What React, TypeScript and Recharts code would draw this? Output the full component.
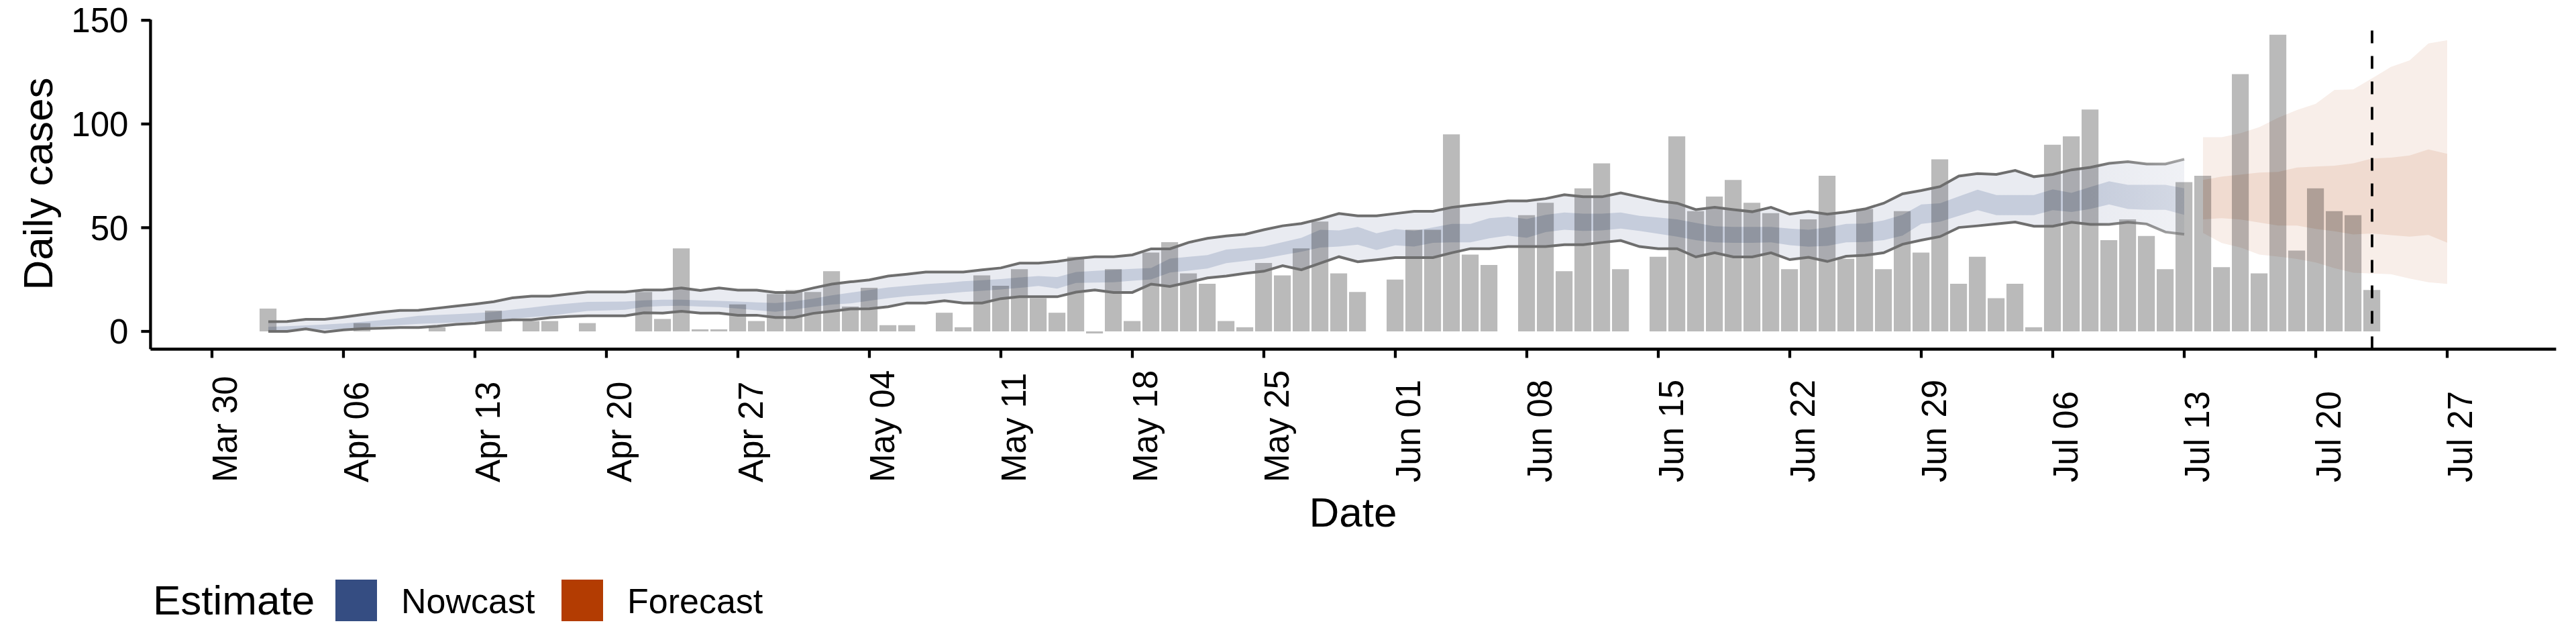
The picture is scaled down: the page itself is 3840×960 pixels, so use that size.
import React from 'react';
import { ComposedChart, Bar, Area, Line, XAxis, YAxis, ReferenceLine, Legend, Label } from 'recharts';

const FONT = '"Liberation Sans", Arial, Helvetica, sans-serif';

// day index = days after Mar 30
const FIRST_DAY = 3; // Apr 02
const FIRST_FORECAST_DAY = 106; // Jul 14
const CUTOFF_DAY = 115; // Jul 23

const tickDays = [0, 7, 14, 21, 28, 35, 42, 49, 56, 63, 70, 77, 84, 91, 98, 105, 112, 119];
const tickLabels = ['Mar 30', 'Apr 06', 'Apr 13', 'Apr 20', 'Apr 27', 'May 04', 'May 11', 'May 18', 'May 25', 'Jun 01', 'Jun 08', 'Jun 15', 'Jun 22', 'Jun 29', 'Jul 06', 'Jul 13', 'Jul 20', 'Jul 27'];
const yTicks = [0, 50, 100, 150];

// Apr 02 .. Jul 23
const dailyCases = [
  11, 0, 0, 0, 0, 4, 0, 0, 0, 2, 0, 0, 10, 0, 5, 5, 0, 4, 0, 0,
  19, 6, 40, 1, 1, 13, 5, 18, 20, 19, 29, 12, 21, 3, 3, 0, 9, 2, 27, 22,
  30, 16, 9, 36, -1, 30, 5, 38, 43, 28, 23, 5, 2, 33, 27, 40, 53, 28, 19, 0,
  25, 49, 49, 95, 37, 32, 0, 56, 62, 29, 69, 81, 30, 0, 36, 94, 58, 65, 73, 62,
  57, 30, 54, 75, 35, 59, 30, 58, 38, 83, 23, 36, 16, 23, 2, 90, 94, 107, 44, 54,
  46, 30, 72, 75, 31, 124, 28, 143, 39, 69, 58, 56, 20,
];

// Apr 02 .. Jul 13
const nowcastUpper90 = [
  4.7, 4.8, 5.8, 5.8, 6.9, 8.1, 9.2, 10.1, 10.2, 11.2, 12.2, 13.2, 14.3, 16.2, 17, 17, 18, 19, 19, 19,
  20, 20, 20.9, 19.7, 20.9, 19.9, 19.9, 18.8, 18.8, 20.9, 22.8, 23.9, 24.8, 26.7, 27.6, 28.6, 28.6, 28.6, 29.7, 30.6,
  32.9, 32.9, 33.7, 35.1, 36, 36, 36.9, 39.8, 39.8, 42.9, 44.9, 46, 46.8, 49, 50.9, 52, 54.2, 56.8, 55.7, 55.7,
  56.8, 57.9, 57.9, 59.8, 60.9, 61.8, 62.9, 62.9, 64, 65.9, 64.9, 64.9, 66.8, 64.8, 62.9, 61.8, 58.7, 59.8, 58.7, 57.7,
  59.8, 56.5, 57.8, 56.5, 57.6, 59, 61.8, 66.3, 67.9, 69.8, 74.9, 76.1, 75.7, 77.6, 74.6, 75.7, 77.9, 79.1, 81, 81.8,
  80.7, 80.7, 83,
];
const nowcastLower90 = [
  0, 0, 1.2, -0.3, 0.7, 1.3, 1.5, 1.9, 1.9, 2.5, 3.4, 3.9, 4.9, 5.6, 5.6, 6.6, 7.2, 7.5, 7.5, 7.5,
  9, 8.8, 9.7, 8.8, 8.8, 7.8, 7.8, 6.7, 6.7, 8.7, 9.7, 10.8, 10.9, 11.9, 13.7, 13.7, 14.8, 13.7, 13.7, 15.8,
  16.7, 16.7, 16.7, 18.9, 20, 18.8, 18.8, 22.8, 21.7, 23.7, 25.8, 26.7, 28, 29, 31.7, 29.7, 32.9, 36, 33.6, 34.5,
  35.6, 35.6, 35.6, 37.9, 39.9, 39.9, 40.9, 40.9, 40.9, 41.8, 41.8, 42.9, 43.8, 40.9, 39.9, 39.9, 35.9, 37.9, 35.9, 35.9,
  37.9, 34.6, 35.7, 33.7, 36.2, 36.7, 37.9, 42, 44, 45.7, 50.1, 50.9, 51.8, 52.7, 50.7, 50.7, 52.6, 51.6, 51.6, 52.6,
  51.8, 47.9, 46.8,
];
const nowcastUpper50 = [
  2.2, 2.5, 2.9, 3.3, 3.8, 4.6, 5.4, 6.4, 7.5, 7.9, 8.3, 8.8, 9.4, 10.5, 11.5, 12.6, 13.4, 14.2, 14.3, 14.4,
  15, 15.3, 15.3, 15, 14.7, 14.4, 14, 13.7, 14.5, 15.8, 17.4, 18.7, 20, 21.2, 22, 22.8, 23.4, 24.2, 24.7, 25.2,
  26, 26.7, 26.2, 28.6, 29.2, 29.7, 30.2, 30.6, 35.1, 36, 36.8, 39.5, 40.3, 40.9, 43, 45.1, 49, 48.7, 50.4, 47.3,
  49.3, 48.4, 50.1, 51.8, 51.8, 54.6, 55.3, 54.2, 56.2, 57.3, 56.8, 56.8, 57.3, 55.7, 54.9, 54, 52.3, 50.7, 50.4, 50.4,
  50.4, 49.6, 49, 50.1, 51.8, 52, 53.5, 56.2, 61.2, 61.8, 65.1, 68.3, 65.7, 65.7, 65.7, 68.5, 66.8, 69.6, 72.4, 70.7,
  70.7, 70.7, 69,
];
const nowcastLower50 = [
  0, 0.3, 0.8, 0.9, 1.1, 1.8, 2.6, 3.1, 3.6, 4, 4.3, 4.7, 5.1, 6.1, 6.9, 7.5, 8.7, 9.9, 10.1, 10.4,
  11.8, 12.2, 12.4, 12, 11.7, 11, 10.2, 9.5, 10.6, 11.8, 12.9, 13.5, 14.8, 16, 17, 17.6, 18.2, 19, 19.6, 20.2,
  21, 21.9, 20.6, 23.4, 23.5, 23.7, 24.4, 25.1, 28.4, 29.3, 30.3, 32.9, 34, 35.1, 36.8, 38.4, 40.4, 40.9, 41.8, 39.2,
  41.5, 40.9, 42.7, 42.9, 42.9, 44.9, 46.2, 45.1, 47.9, 49, 48.4, 48.7, 49.6, 48.4, 47.1, 45.7, 44, 42.9, 42.7, 42.7,
  42.9, 41.6, 40.8, 41.2, 42.9, 43.1, 44, 46.2, 51.8, 52.9, 55.7, 58.5, 56, 56, 56, 58.5, 57.6, 59, 61.2, 59,
  58.6, 58.6, 56.2,
];

// Jul 14 .. Jul 27
const forecastUpper90 = [93.6, 93.6, 95.6, 98.5, 103, 106.7, 109.7, 116.4, 116.7, 122, 127.5, 130.7, 138.8, 140.4];
const forecastLower90 = [47.5, 42.6, 40.4, 37, 36.1, 34.9, 33.2, 30.5, 28.3, 27.9, 27.6, 25.5, 23.7, 22.9];
const forecastUpper50 = [73, 74.6, 75.6, 76.6, 76.9, 79, 79.5, 79.9, 81, 83.4, 83.8, 84.8, 87.7, 85.6];
const forecastLower50 = [54, 54.6, 53.9, 52.5, 51, 51, 49.4, 48.3, 46.7, 47.2, 46.4, 45.7, 46.5, 42.8];

const LAST_DAY = FIRST_FORECAST_DAY + forecastUpper90.length - 1;

const data: any[] = [];
for (let d = FIRST_DAY; d <= LAST_DAY; d++) {
  const i = d - FIRST_DAY;
  const f = d - FIRST_FORECAST_DAY;
  const row: any = { day: d };
  if (i < dailyCases.length) row.cases = dailyCases[i];
  if (i < nowcastUpper90.length) {
    row.now90 = [nowcastLower90[i], nowcastUpper90[i]];
    row.now50 = [nowcastLower50[i], nowcastUpper50[i]];
    row.nowHi = nowcastUpper90[i];
    row.nowLo = nowcastLower90[i];
  }
  if (f >= 0 && f < forecastUpper90.length) {
    row.fc90 = [forecastLower90[f], forecastUpper90[f]];
    row.fc50 = [forecastLower50[f], forecastUpper50[f]];
  }
  data.push(row);
}

const W = 3830;
const H = 950;

const XTick = (props: any) => {
  const { x, payload } = props;
  const idx = tickDays.indexOf(payload.value);
  const bx = x + 37;
  const by = 719;
  return (
    <text
      x={bx}
      y={by}
      transform={`rotate(-90, ${bx}, ${by})`}
      textAnchor="start"
      fontSize={51}
      fontFamily={FONT}
      fill="#000"
    >
      {tickLabels[idx]}
    </text>
  );
};

const renderLegend = () => (
  <svg width={1200} height={100} style={{ display: 'block' }}>
    <text x={228} y={68} fontSize={62} fontFamily={FONT} fill="#000">Estimate</text>
    <rect x={500} y={16} width={62} height={62} fill="#354D82" />
    <text x={598} y={66} fontSize={52} fontFamily={FONT} fill="#000">Nowcast</text>
    <rect x={837} y={16} width={62} height={62} fill="#B33C02" />
    <text x={935} y={66} fontSize={52} fontFamily={FONT} fill="#000">Forecast</text>
  </svg>
);

export default function App() {
  return (
    <div style={{ width: W, height: H, margin: '-8px 0 0 -8px', fontFamily: FONT }}>
      <ComposedChart
        width={W}
        height={H}
        data={data}
        margin={{ top: 29.3, right: 19.6, bottom: 209.5, left: 124.4 }}
      >
        <defs>
          <linearGradient id="fadeOuter" x1="0" y1="0" x2="1" y2="0">
            <stop offset="0.95" stopColor="#e9ebf1" stopOpacity={1} />
            <stop offset="1" stopColor="#e9ebf1" stopOpacity={0.7} />
          </linearGradient>
          <linearGradient id="fadeInner" x1="0" y1="0" x2="1" y2="0">
            <stop offset="0.95" stopColor="#c6cddc" stopOpacity={1} />
            <stop offset="1" stopColor="#c6cddc" stopOpacity={0.65} />
          </linearGradient>
          <linearGradient id="fadeLine" x1="0" y1="0" x2="1" y2="0">
            <stop offset="0.95" stopColor="#6e6e6e" stopOpacity={1} />
            <stop offset="1" stopColor="#6e6e6e" stopOpacity={0.6} />
          </linearGradient>
        </defs>
        <XAxis
          dataKey="day"
          type="number"
          domain={[-3.27, 124.8]}
          allowDataOverflow
          ticks={tickDays}
          interval={0}
          height={220}
          tickSize={13}
          tick={<XTick />}
          axisLine={{ stroke: '#000', strokeWidth: 4.3 }}
          tickLine={{ stroke: '#000', strokeWidth: 4.3 }}
        >
          <Label
            content={() => (
              <text x={2017} y={785} textAnchor="middle" fontSize={62} fontFamily={FONT} fill="#000">
                Date
              </text>
            )}
          />
        </XAxis>
        <YAxis
          type="number"
          domain={[-8.57, 150.3]}
          allowDataOverflow
          ticks={yTicks}
          interval={0}
          width={100}
          tickSize={14}
          tickMargin={19}
          tick={{ fill: '#000', fontSize: 51, fontFamily: FONT }}
          axisLine={{ stroke: '#000', strokeWidth: 4.3 }}
          tickLine={{ stroke: '#000', strokeWidth: 4.3 }}
        >
          <Label
            content={() => (
              <text
                x={78}
                y={274}
                transform="rotate(-90, 78, 274)"
                textAnchor="middle"
                fontSize={62}
                fontFamily={FONT}
                fill="#000"
              >
                Daily cases
              </text>
            )}
          />
        </YAxis>
        <Area dataKey="now90" type="linear" fill="url(#fadeOuter)" fillOpacity={1} stroke="none" isAnimationActive={false} />
        <Area dataKey="now50" type="linear" fill="url(#fadeInner)" fillOpacity={1} stroke="none" isAnimationActive={false} />
        <Area dataKey="fc90" type="linear" fill="#f8eee9" fillOpacity={1} stroke="none" isAnimationActive={false} />
        <Area dataKey="fc50" type="linear" fill="#f0dbd0" fillOpacity={1} stroke="none" isAnimationActive={false} />
        <Line dataKey="nowHi" type="linear" stroke="url(#fadeLine)" strokeWidth={4} dot={false} activeDot={false} isAnimationActive={false} />
        <Line dataKey="nowLo" type="linear" stroke="url(#fadeLine)" strokeWidth={4} dot={false} activeDot={false} isAnimationActive={false} />
        <Bar dataKey="cases" barSize={25.2} fill="#000" fillOpacity={0.27} isAnimationActive={false} />
        <ReferenceLine x={CUTOFF_DAY} stroke="#000" strokeWidth={3.8} strokeDasharray="19 19" />
        <Legend
          content={renderLegend}
          layout="horizontal"
          verticalAlign="middle"
          align="center"
          wrapperStyle={{ left: 0, top: 848, width: 1200, height: 100 }}
        />
      </ComposedChart>
    </div>
  );
}
